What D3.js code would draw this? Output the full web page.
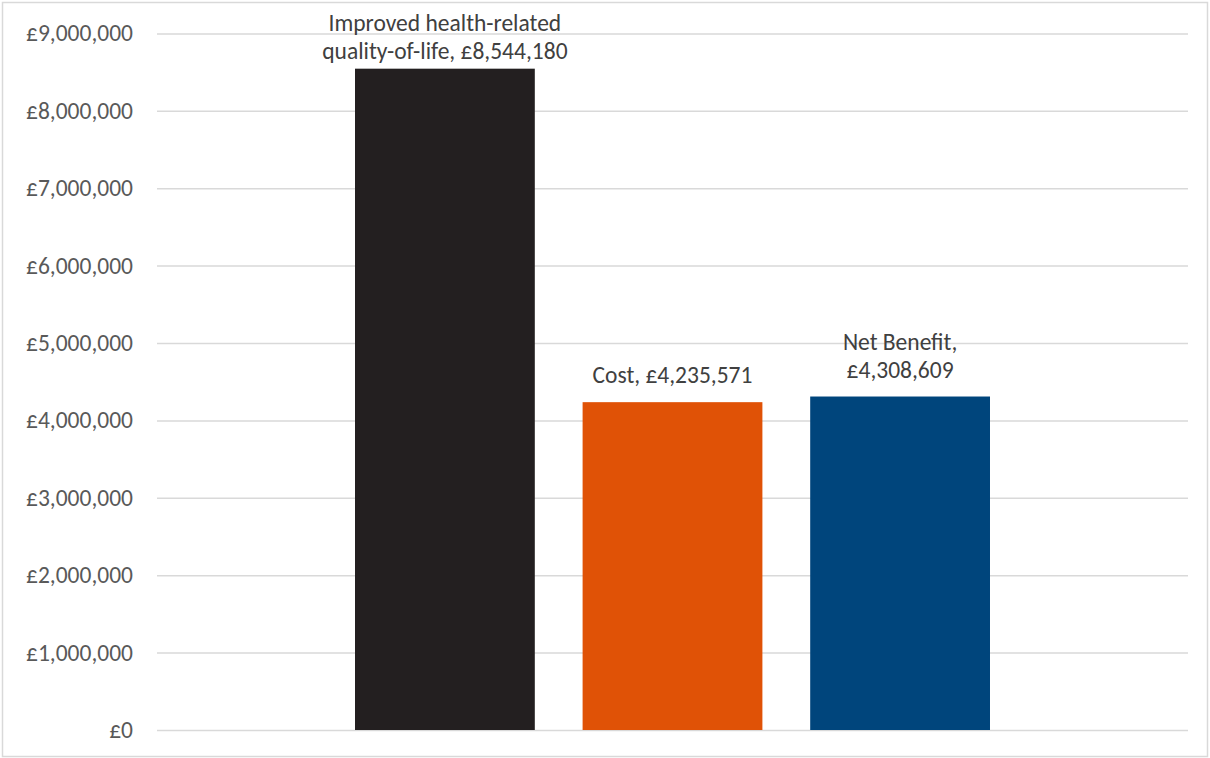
<!DOCTYPE html>
<html lang="en">
<head>
    <meta charset="UTF-8">
    <title>Benefit vs cost</title>
    <script src="https://d3js.org/d3.v7.min.js"></script>
    <style>
        body { margin: 0; background: #fff; }
        svg text { font-family: Carlito, Calibri, "Liberation Sans", sans-serif; }
    </style>
</head>
<body>
<div id="chart"></div>
<script>
// data
var categories = ["Improved health-related quality-of-life", "Cost", "Net Benefit"];
var values = [8544180, 4235571, 4308609];
var labelLines = [
    ["Improved health-related", "quality-of-life, £8,544,180"],
    ["Cost, £4,235,571"],
    ["Net Benefit,", "£4,308,609"]
];
var colors = ["#231f20", "#e05206", "#00457c"];
var yTicks = [0, 1000000, 2000000, 3000000, 4000000, 5000000, 6000000, 7000000, 8000000, 9000000];

var width = 1210, height = 758;

var svg = d3.select("#chart").append("svg")
    .attr("width", width)
    .attr("height", height);

// outer chart border
svg.append("rect")
    .attr("x", 2.5).attr("y", 2.5)
    .attr("width", 1205).attr("height", 754)
    .attr("fill", "#fff")
    .attr("stroke", "#d9d9d9")
    .attr("stroke-width", 1.5);

var x = d3.scaleBand()
    .domain(categories)
    .range([157, 1188])
    .paddingInner(0.21)
    .paddingOuter(0.87);

var y = d3.scaleLinear()
    .domain([0, 9000000])
    .range([730, 33.4]);

var fmt = function(d) { return "£" + d3.format(",")(d); };

// gridlines + tick labels
var yAxis = d3.axisLeft(y)
    .tickValues(yTicks)
    .tickFormat(fmt)
    .tickSize(-(1188 - 157))
    .tickPadding(24);

var gAxis = svg.append("g")
    .attr("transform", "translate(157,0)")
    .call(yAxis);

gAxis.select(".domain").remove();
gAxis.selectAll(".tick line")
    .attr("stroke", "#d9d9d9")
    .attr("stroke-width", 1.5);
gAxis.selectAll(".tick text")
    .attr("fill", "#595959")
    .style("font-size", "23.5px");

// bars
svg.selectAll("rect.bar")
    .data(values)
    .enter().append("rect")
    .attr("class", "bar")
    .attr("x", function(d, i) { return x(categories[i]); })
    .attr("y", function(d) { return y(d); })
    .attr("width", x.bandwidth())
    .attr("height", function(d) { return y(0) - y(d); })
    .attr("fill", function(d, i) { return colors[i]; });

// data labels (pushed down to stay inside the chart when too high)
var lineH = 28;
var labels = svg.selectAll("text.lbl")
    .data(values)
    .enter().append("text")
    .attr("class", "lbl")
    .attr("text-anchor", "middle")
    .attr("fill", "#404040")
    .style("font-size", "23.5px");

labels.each(function(d, i) {
    var lines = labelLines[i];
    var lastBase = Math.max(y(d) - 19, 31 + (lines.length - 1) * lineH);
    var cx = x(categories[i]) + x.bandwidth() / 2;
    var t = d3.select(this);
    lines.forEach(function(s, k) {
        t.append("tspan")
            .attr("x", cx)
            .attr("y", lastBase - (lines.length - 1 - k) * lineH)
            .text(s);
    });
});
</script>
</body>
</html>
